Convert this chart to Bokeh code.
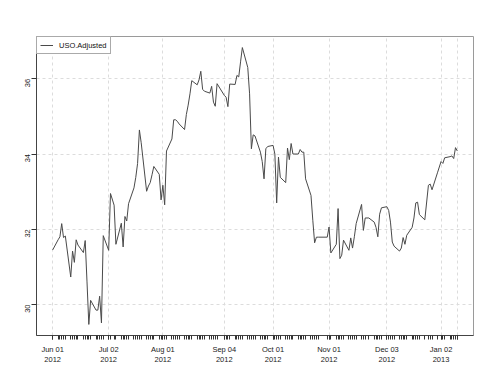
import math
import pandas as pd
from bokeh.plotting import figure
from bokeh.models import Range1d, FixedTicker, Legend, LegendItem
from bokeh.embed import file_html
from bokeh.resources import INLINE

# ---- data (USO adjusted close) ----
holidays = ["2012-07-04", "2012-09-03", "2012-10-29", "2012-10-30",
            "2012-11-22", "2012-12-25", "2013-01-01"]
first_day = "2012-06-01"
last_day = "2013-01-11"

jun = [31.45, 31.72, 31.80, 32.15, 31.78, 31.82, 30.73, 31.42, 31.12, 31.72,
       31.58, 31.38, 31.70, 30.60, 29.47, 30.11, 29.85, 29.85, 30.22, 29.51, 31.83]
jul = [31.44, 32.95, 32.64, 31.60, 32.16, 31.53, 32.34, 32.22, 32.68, 33.10,
       33.38, 33.75, 34.64, 34.30, 33.01, 33.15, 33.24, 33.45, 33.67, 33.46, 32.78]
aug = [33.17, 32.65, 34.08, 34.40, 34.91, 34.91, 34.87, 34.80, 34.65, 35.05,
       35.30, 35.60, 35.95, 35.84, 35.97, 36.20, 35.72, 35.67, 35.62, 35.80,
       35.38, 35.27, 35.87]
sep = [35.56, 35.51, 35.26, 35.86, 35.85, 36.09, 36.05, 36.45, 36.83, 36.30,
       35.60, 34.14, 34.51, 34.48, 34.05, 33.80, 33.34, 34.14, 34.20]
oct_ = [34.23, 34.00, 32.70, 33.92, 33.38, 33.24, 34.16, 33.85, 34.28, 34.00,
        34.00, 34.12, 34.05, 34.05, 33.34, 32.90, 32.24, 31.64, 31.79, 31.79, 31.79]
nov = [32.06, 31.37, 31.60, 32.55, 31.22, 31.31, 31.71, 31.44, 31.77, 31.50,
       31.80, 32.15, 32.66, 31.97, 32.30, 32.30, 32.19, 32.05, 31.80, 32.40, 32.57]
dec = [32.60, 32.50, 32.19, 31.66, 31.55, 31.42, 31.50, 31.78, 31.60, 31.84,
       32.05, 32.30, 32.70, 32.72, 32.39, 32.25, 33.17, 33.20, 33.05, 33.50]
jan = [33.80, 33.75, 33.90, 33.93, 33.95, 33.88, 34.17, 34.08]

label_dates = ["2012-06-01", "2012-07-02", "2012-08-01", "2012-09-04",
               "2012-10-01", "2012-11-01", "2012-12-03", "2013-01-02"]
label_texts = ["Jun 01\n2012", "Jul 02\n2012", "Aug 01\n2012", "Sep 04\n2012",
               "Oct 01\n2012", "Nov 01\n2012", "Dec 03\n2012", "Jan 02\n2013"]
y_ticks = [30, 32, 34, 36]
series_name = "USO.Adjusted"

values = jun + jul + aug + sep + oct_ + nov + dec + jan
dates = pd.bdate_range(first_day, last_day, freq="C", holidays=holidays)
n = min(len(dates), len(values))
dates = dates[:n]
values = values[:n]


def ms(d):
    return float(pd.Timestamp(d).value // 10**6)


date_ms = [ms(d) for d in dates]
x0, x1 = date_ms[0], date_ms[-1]
xpad = (x1 - x0) * 0.04
ymin, ymax = min(values), max(values)
ypad = (ymax - ymin) * 0.04

FONT = "Liberation Sans"

p = figure(width=492, height=367, x_axis_type="datetime",
           output_backend="svg", toolbar_location=None,
           x_range=Range1d(x0 - xpad, x1 + xpad),
           y_range=Range1d(ymin - ypad, ymax + ypad),
           min_border_left=36, min_border_top=36,
           min_border_right=19, min_border_bottom=32)
p.background_fill_color = "white"
p.border_fill_color = "white"
p.outline_line_color = "#9a9a9a"
p.outline_line_width = 1

r = p.line(date_ms, values, line_color="#4a4a4a", line_width=1)

major = [ms(d) for d in label_dates] + [x1]
overrides = {ms(d): t for d, t in zip(label_dates, label_texts)}
overrides[x1] = ""

xa = p.xaxis[0]
xa.ticker = FixedTicker(ticks=major, minor_ticks=date_ms)
xa.major_label_overrides = overrides
xa.axis_line_color = "#444444"
xa.major_tick_in = 0
xa.major_tick_out = 4
xa.minor_tick_in = 0
xa.minor_tick_out = 4
xa.major_tick_line_color = "#333333"
xa.minor_tick_line_color = "#333333"
xa.major_label_text_font = FONT
xa.major_label_text_font_size = "7.5px"
xa.major_label_text_color = "#222222"
xa.major_label_standoff = 5

ya = p.yaxis[0]
ya.ticker = FixedTicker(ticks=y_ticks, minor_ticks=[])
ya.axis_line_color = "#444444"
ya.major_tick_in = 0
ya.major_tick_out = 5
ya.major_tick_line_color = "#333333"
ya.major_label_orientation = math.pi / 2
ya.major_label_text_font = FONT
ya.major_label_text_font_size = "7.5px"
ya.major_label_text_color = "#222222"
ya.major_label_standoff = 4

for g in (p.xgrid[0], p.ygrid[0]):
    g.grid_line_color = "#dcdcdc"
    g.grid_line_dash = "3 3"
    g.grid_line_width = 1

legend = Legend(items=[LegendItem(label=series_name, renderers=[r])],
                location="top_left", margin=0, padding=3, spacing=0,
                glyph_width=13, glyph_height=10, label_standoff=6,
                label_text_font=FONT, label_text_font_size="7.5px",
                label_text_color="#111111", label_height=10,
                border_line_color="#555555", border_line_width=1,
                background_fill_color="white", background_fill_alpha=1)
p.add_layout(legend)

open("out.html", "w").write(file_html(p, INLINE))
